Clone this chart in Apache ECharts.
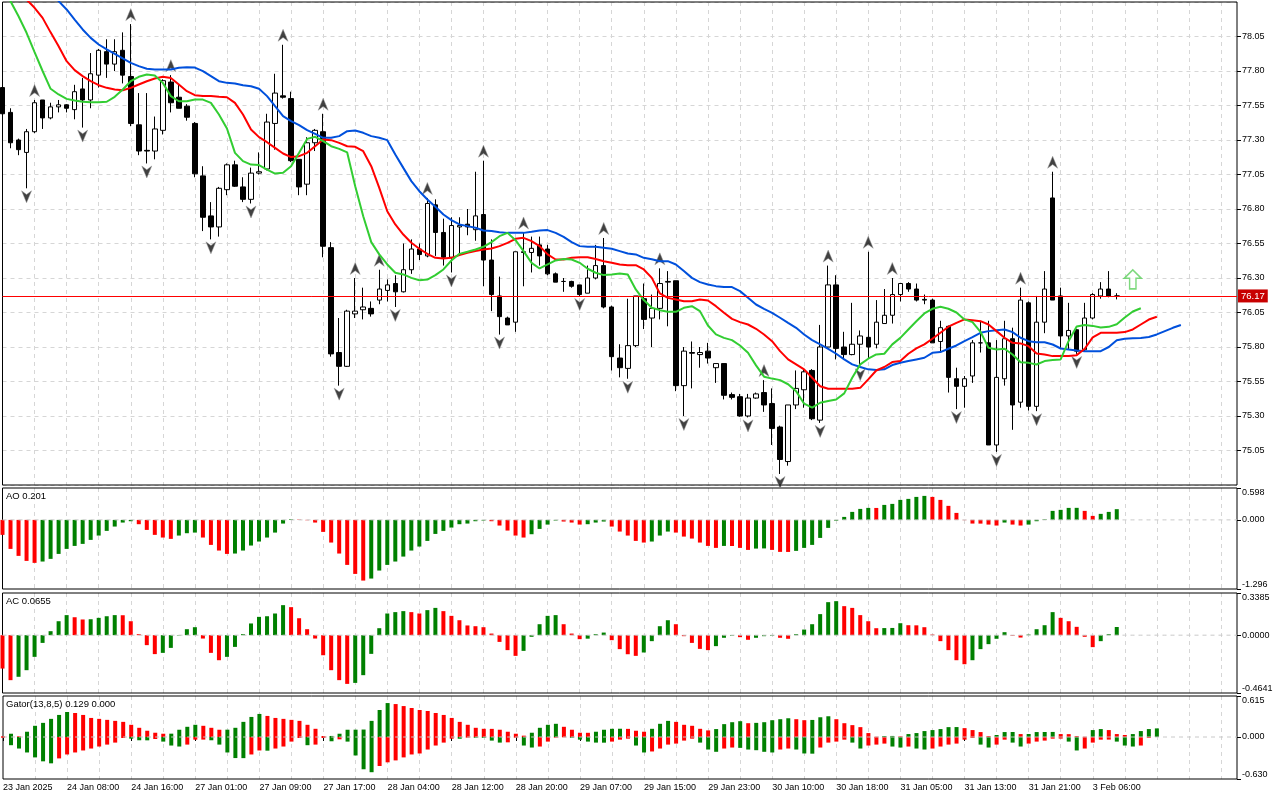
<!DOCTYPE html>
<html><head><meta charset="utf-8">
<script src="https://cdn.jsdelivr.net/npm/echarts@6.0.0/dist/echarts.min.js"></script>
<style>html,body{margin:0;padding:0;background:#fff}#c{width:1280px;height:800px}</style>
</head><body><div id="c"></div>
<script>
// ---------- tick labels (bottom time axis, one every 8 bars) ----------
const tickLabels = ['23 Jan 2025','24 Jan 08:00','24 Jan 16:00','27 Jan 01:00','27 Jan 09:00','27 Jan 17:00',
  '28 Jan 04:00','28 Jan 12:00','28 Jan 20:00','29 Jan 07:00','29 Jan 15:00','29 Jan 23:00','30 Jan 10:00',
  '30 Jan 18:00','31 Jan 05:00','31 Jan 13:00','31 Jan 21:00','3 Feb 06:00'];

// ---------- candles ----------
const open = [77.68,77.50,77.30,77.21,77.36,77.59,77.46,77.54,77.555,77.52,
 77.67,77.59,77.77,77.94,77.85,77.95,77.76,77.41,77.225,77.22,
 77.37,77.72,77.61,77.545,77.42,77.04,76.75,76.67,76.94,77.12,
 76.96,76.87,77.06,77.09,77.42,77.62,77.60,77.16,76.98,77.28,
 77.36,76.52,75.76,75.66,76.04,76.07,76.08,76.14,76.21,76.26,
 76.20,76.36,76.51,76.46,76.83,76.63,76.45,76.67,76.69,76.65,
 76.76,76.43,76.17,76.01,75.98,76.49,76.485,76.54,76.51,76.33,
 76.275,76.275,76.25,76.19,76.30,76.39,76.09,75.72,75.645,75.81,
 76.15,76.01,76.08,76.27,76.28,75.52,75.76,75.745,75.77,75.65,
 75.68,75.455,75.44,75.30,75.43,75.47,75.39,75.22,74.97,75.38,
 75.49,75.63,75.27,75.80,76.25,75.80,75.745,75.82,75.87,75.82,
 75.97,76.03,76.18,76.26,76.22,76.145,76.14,75.84,75.95,75.57,
 75.515,75.59,75.83,75.83,75.09,75.57,75.86,75.40,76.12,75.37,
 75.98,76.88,76.17,75.88,75.925,75.78,76.01,76.17,76.22,76.17];
const high = [77.72,77.53,77.31,77.38,77.59,77.585,77.57,77.59,77.56,77.70,
 77.75,77.93,77.96,78.03,78.03,78.08,78.14,77.64,77.64,77.47,
 77.74,77.77,77.70,77.56,77.43,77.11,76.85,76.96,77.13,77.15,
 77.03,77.10,77.21,77.49,77.78,77.99,77.65,77.16,77.32,77.38,
 77.49,76.56,76.01,76.07,76.30,76.23,76.13,76.36,76.29,76.32,
 76.55,76.58,76.55,76.88,76.87,76.73,76.74,76.74,76.80,77.07,
 77.15,76.58,76.31,76.02,76.49,76.63,76.60,76.60,76.54,76.34,
 76.30,76.28,76.25,76.39,76.54,76.59,76.10,75.82,76.15,76.17,
 76.26,76.18,76.37,76.35,76.28,75.80,75.84,75.80,75.83,75.68,
 75.68,75.47,75.46,75.46,75.47,75.56,75.50,75.23,75.38,75.63,
 75.64,75.64,75.96,76.39,76.32,75.91,76.12,75.92,76.49,76.14,
 76.22,76.30,76.26,76.27,76.26,76.18,76.15,75.99,75.955,75.65,
 75.59,75.85,75.99,75.99,75.85,75.99,75.94,76.23,76.13,76.17,
 76.35,77.07,76.23,76.12,75.93,76.12,76.19,76.27,76.35,76.19];
const low = [77.46,77.24,77.19,76.95,77.35,77.38,77.45,77.50,77.50,77.45,
 77.39,77.53,77.68,77.75,77.80,77.71,77.40,77.19,77.13,77.16,
 77.34,77.50,77.53,77.44,77.03,76.64,76.58,76.60,76.90,76.96,
 76.85,76.84,77.05,77.08,77.23,77.60,77.14,76.90,76.90,77.22,
 76.45,75.73,75.52,75.655,76.01,76.00,76.02,76.11,76.13,76.09,
 76.195,76.33,76.43,76.45,76.46,76.39,76.34,76.47,76.61,76.57,
 76.24,76.06,75.89,75.96,75.91,76.24,76.34,76.39,76.32,76.27,
 76.20,76.23,76.17,76.19,76.29,76.08,75.63,75.58,75.57,75.80,
 75.93,75.80,76.00,75.95,75.48,75.30,75.50,75.65,75.68,75.54,
 75.42,75.42,75.295,75.29,75.425,75.33,75.09,74.88,74.94,75.35,
 75.36,75.27,75.25,75.795,75.71,75.72,75.74,75.66,75.72,75.79,
 75.97,75.97,76.13,76.20,76.13,76.11,75.83,75.76,75.47,75.35,
 75.36,75.54,75.76,75.09,75.04,75.52,75.20,75.36,75.34,75.335,
 75.90,76.14,75.79,75.78,75.75,75.77,76.00,76.15,76.16,76.145];
const close = [77.49,77.28,77.23,77.36,77.57,77.46,77.54,77.555,77.53,77.65,
 77.59,77.78,77.95,77.85,77.94,77.77,77.42,77.22,77.22,77.38,
 77.73,77.57,77.53,77.465,77.055,76.74,76.67,76.95,77.12,76.965,
 76.87,77.06,77.07,77.43,77.64,77.61,77.15,76.96,77.28,77.37,
 76.53,75.75,75.66,76.06,76.06,76.09,76.04,76.22,76.25,76.20,
 76.36,76.51,76.47,76.84,76.63,76.45,76.68,76.68,76.67,76.75,
 76.43,76.18,76.02,75.96,76.49,76.485,76.515,76.46,76.33,76.27,
 76.275,76.24,76.18,76.30,76.39,76.09,75.73,75.65,75.81,76.17,
 76.00,76.08,76.26,76.275,75.52,75.77,75.755,75.76,75.72,75.68,
 75.45,75.435,75.30,75.43,75.46,75.38,75.21,74.985,75.38,75.50,
 75.62,75.28,75.80,76.25,75.79,75.745,75.82,75.88,75.80,75.98,
 76.03,76.18,76.26,76.22,76.14,76.14,75.83,75.94,75.58,75.515,
 75.57,75.83,75.83,75.09,75.58,75.86,75.38,76.14,75.37,75.98,
 76.22,76.14,75.88,75.92,75.77,76.01,76.18,76.22,76.17,76.17];

// ---------- Alligator (already shifted forward: jaw 8, teeth 5, lips 3) ----------
const jaw = [78.70,78.65,78.60,78.55,78.49,78.43,78.37,
 78.306,78.246,78.173,78.101,78.040,77.992,77.956,77.924,77.891,77.859,77.835,77.816,77.811,77.811,77.811,
 77.823,77.828,77.825,77.799,77.763,77.726,77.714,77.709,77.697,77.690,77.671,77.618,77.545,77.473,77.437,
 77.408,77.371,77.345,
 77.316,77.316,77.328,77.364,77.369,77.352,77.328,77.316,77.299,77.195,77.098,77.002,76.929,76.869,76.816,
 76.760,76.719,76.688,76.676,76.664,76.644,76.640,76.632,76.627,76.627,76.627,76.635,76.644,76.647,76.627,
 76.598,76.560,76.531,76.526,76.526,76.519,76.512,76.495,76.478,76.471,76.446,76.436,
 76.422,76.422,76.398,76.350,76.301,76.270,76.253,76.241,76.234,76.234,76.205,76.157,76.108,76.077,76.048,
 76.012,75.975,75.939,75.891,75.850,75.819,75.787,75.751,75.710,75.674,75.655,75.638,75.633,75.638,75.669,
 75.686,75.698,75.710,75.722,75.758,75.763,75.787,75.811,75.842,
 75.871,75.903,75.915,75.922,75.927,75.908,75.867,75.842,75.835,75.835,75.818,75.789,75.782,75.775,75.770,
 75.770,75.770,75.800,75.849,75.859,75.864,75.866,75.873,75.891,75.915,75.939,75.959];
const teeth = [78.463,78.415,78.367,78.318,78.258,78.185,78.08,77.98,77.871,77.806,
 77.763,77.726,77.697,77.678,77.666,77.661,77.678,77.702,77.726,77.746,
 77.758,77.750,77.702,77.654,77.625,77.618,77.618,77.613,77.610,77.569,
 77.485,77.376,77.321,77.284,77.243,77.202,77.176,77.183,77.207,77.255,
 77.304,77.299,77.279,77.255,77.251,77.219,77.110,76.953,76.784,76.688,
 76.615,76.555,76.512,76.475,76.446,76.441,76.446,76.466,76.483,76.495,
 76.507,76.514,76.531,76.555,76.584,76.591,76.567,76.531,76.471,76.434,
 76.434,76.446,76.451,76.451,76.438,76.422,76.410,76.398,76.393,76.393,
 76.362,76.301,76.188,76.156,76.144,76.132,76.132,76.144,76.137,76.096,
 76.048,76.004,75.980,75.963,75.932,75.891,75.842,75.770,75.710,75.674,
 75.638,75.577,75.516,75.497,75.497,75.497,75.497,75.504,75.565,75.630,
 75.655,75.691,75.698,75.751,75.790,75.819,75.860,75.903,75.947,75.975,
 76.000,75.994,75.987,75.963,75.915,75.867,75.830,75.826,75.806,75.753,
 75.746,75.734,75.734,75.734,75.741,75.787,75.870,75.903,75.903,75.903,
 75.908,75.927,75.963,75.999,76.019];
const lips = [78.415,78.306,78.197,78.077,77.936,77.800,77.671,77.630,77.598,77.586,
 77.577,77.574,77.574,77.577,77.613,77.666,77.726,77.758,77.775,77.767,
 77.714,77.618,77.581,77.581,77.593,77.593,77.569,77.485,77.383,77.207,
 77.147,77.122,77.118,77.086,77.057,77.062,77.110,77.207,77.308,77.323,
 77.292,77.255,77.236,77.210,76.965,76.748,76.560,76.471,76.398,76.338,
 76.326,76.301,76.284,76.289,76.321,76.362,76.427,76.475,76.490,76.507,
 76.526,76.560,76.603,76.627,76.574,76.495,76.410,76.369,76.398,76.427,
 76.438,76.434,76.410,76.367,76.338,76.321,76.326,76.333,76.326,76.217,
 76.140,76.084,76.067,76.055,76.055,76.084,76.096,76.060,75.956,75.891,
 75.866,75.850,75.811,75.758,75.667,75.585,75.571,75.560,75.530,75.480,
 75.389,75.360,75.396,75.408,75.420,75.464,75.577,75.674,75.715,75.746,
 75.751,75.819,75.866,75.927,75.987,76.043,76.077,76.091,76.077,76.050,
 76.000,75.980,75.910,75.794,75.782,75.787,75.746,75.690,75.685,75.673,
 75.698,75.705,75.710,75.844,75.948,75.960,75.953,75.941,75.946,75.965,
 76.014,76.057,76.081];

// ---------- Fractals (bar indices) and signal arrow ----------
const fractalUp = [4,16,21,35,40,44,47,53,60,65,75,82,95,103,108,111,127,131];
const fractalDown = [3,10,18,26,31,42,49,56,62,72,78,85,93,97,102,107,119,124,129,134];
const signalArrow = [[141, 76.29]];

// ---------- Awesome Oscillator ----------
const ao = [-0.281,-0.544,-0.675,-0.769,-0.806,-0.781,-0.731,-0.638,-0.544,-0.488,
 -0.450,-0.375,-0.294,-0.206,-0.125,-0.050,-0.025,-0.081,-0.188,-0.281,
 -0.331,-0.356,-0.294,-0.250,-0.238,-0.331,-0.469,-0.575,-0.638,-0.631,
 -0.575,-0.481,-0.406,-0.331,-0.238,-0.069,0.012,0.006,-0.006,-0.050,
 -0.225,-0.425,-0.631,-0.844,-1.013,-1.138,-1.100,-0.950,-0.844,-0.781,
 -0.688,-0.575,-0.500,-0.394,-0.263,-0.206,-0.144,-0.081,-0.069,-0.025,
 -0.012,-0.025,-0.106,-0.200,-0.294,-0.331,-0.269,-0.169,-0.088,-0.012,
 -0.031,-0.050,-0.088,-0.081,-0.050,-0.031,-0.125,-0.219,-0.294,-0.394,
 -0.425,-0.406,-0.294,-0.219,-0.238,-0.313,-0.350,-0.425,-0.488,-0.525,
 -0.488,-0.490,-0.525,-0.563,-0.538,-0.535,-0.563,-0.600,-0.601,-0.581,
 -0.525,-0.469,-0.338,-0.150,-0.015,0.056,0.150,0.206,0.225,0.224,
 0.281,0.300,0.375,0.394,0.431,0.450,0.431,0.375,0.263,0.131,
 -0.005,-0.069,-0.070,-0.088,-0.106,-0.050,-0.088,-0.106,-0.088,-0.025,
 0.012,0.169,0.188,0.225,0.226,0.169,0.075,0.113,0.150,0.201];

// ---------- Accelerator Oscillator ----------
const ac = [-0.268,-0.361,-0.334,-0.281,-0.174,-0.062,0.032,0.112,0.161,0.144,
 0.126,0.128,0.139,0.152,0.161,0.160,0.112,0.008,-0.080,-0.152,
 -0.142,-0.102,-0.003,0.048,0.064,-0.027,-0.142,-0.201,-0.174,-0.094,
 0.008,0.094,0.147,0.152,0.174,0.241,0.225,0.136,0.048,-0.027,
 -0.161,-0.281,-0.361,-0.391,-0.383,-0.321,-0.150,0.056,0.174,0.185,
 0.193,0.185,0.174,0.201,0.219,0.193,0.155,0.120,0.078,0.072,
 0.064,0.013,-0.054,-0.120,-0.166,-0.126,-0.013,0.088,0.155,0.161,
 0.088,0.013,-0.032,-0.028,0.008,0.021,-0.040,-0.112,-0.153,-0.166,
 -0.139,-0.048,0.072,0.120,0.088,-0.008,-0.062,-0.110,-0.120,-0.088,
 -0.021,-0.005,-0.016,-0.037,-0.021,-0.008,-0.005,-0.021,-0.029,0.008,
 0.045,0.088,0.169,0.265,0.273,0.233,0.219,0.161,0.112,0.056,
 0.057,0.058,0.096,0.080,0.079,0.064,0.005,-0.048,-0.120,-0.201,
 -0.233,-0.201,-0.112,-0.072,-0.029,0.024,-0.005,-0.019,0.005,0.048,
 0.080,0.185,0.139,0.112,0.067,-0.013,-0.096,-0.048,0.008,0.0655];

// ---------- Gator oscillator (upper = |jaw-teeth|, lower = -|teeth-lips|) ----------
const gatorUp = [0.010,0.049,0.010,0.079,0.168,0.212,0.272,0.331,0.375,0.360,
 0.331,0.286,0.272,0.257,0.242,0.227,0.183,0.138,0.094,0.064,
 0.049,0.050,0.109,0.153,0.183,0.168,0.138,0.109,0.110,0.138,
 0.227,0.301,0.346,0.316,0.286,0.272,0.257,0.242,0.183,0.123,
 0.015,0.016,0.049,0.109,0.110,0.112,0.242,0.405,0.509,0.494,
 0.464,0.435,0.405,0.390,0.360,0.331,0.286,0.227,0.183,0.138,
 0.123,0.122,0.109,0.079,0.049,0.020,0.064,0.138,0.183,0.198,
 0.153,0.109,0.064,0.063,0.079,0.109,0.123,0.124,0.122,0.094,
 0.079,0.123,0.198,0.242,0.227,0.183,0.168,0.123,0.099,0.119,
 0.193,0.222,0.237,0.207,0.212,0.222,0.252,0.267,0.281,0.267,
 0.252,0.256,0.296,0.311,0.267,0.207,0.178,0.148,0.059,0.005,
 0.015,0.016,0.010,0.044,0.059,0.089,0.104,0.119,0.148,0.149,
 0.133,0.104,0.074,0.015,0.030,0.074,0.075,0.044,0.045,0.074,
 0.075,0.076,0.044,0.043,0.015,0.005,0.104,0.119,0.104,0.044,
 0.030,0.044,0.089,0.119,0.129];
const gatorDown = [-0.010,-0.123,-0.173,-0.232,-0.306,-0.365,-0.395,-0.321,-0.262,-0.232,
 -0.202,-0.173,-0.143,-0.114,-0.084,-0.015,-0.025,-0.049,-0.050,-0.030,
 -0.069,-0.128,-0.143,-0.114,-0.040,-0.039,-0.049,-0.114,-0.232,-0.316,
 -0.317,-0.262,-0.202,-0.205,-0.173,-0.143,-0.069,-0.015,-0.123,-0.114,
 -0.015,-0.064,-0.035,-0.069,-0.277,-0.484,-0.528,-0.435,-0.380,-0.351,
 -0.306,-0.262,-0.247,-0.188,-0.128,-0.084,-0.025,-0.026,-0.010,-0.011,
 -0.012,-0.054,-0.084,-0.080,-0.010,-0.128,-0.158,-0.143,-0.069,-0.010,
 -0.005,-0.011,-0.040,-0.069,-0.084,-0.085,-0.069,-0.040,-0.025,-0.128,
 -0.232,-0.217,-0.173,-0.114,-0.099,-0.054,-0.025,-0.084,-0.188,-0.222,
 -0.173,-0.158,-0.163,-0.188,-0.198,-0.222,-0.232,-0.188,-0.173,-0.188,
 -0.247,-0.250,-0.158,-0.084,-0.069,-0.040,-0.084,-0.173,-0.128,-0.114,
 -0.099,-0.143,-0.158,-0.143,-0.173,-0.188,-0.173,-0.143,-0.114,-0.099,
 -0.040,-0.015,-0.114,-0.158,-0.114,-0.040,-0.084,-0.143,-0.099,-0.069,
 -0.054,-0.025,-0.024,-0.069,-0.202,-0.173,-0.084,-0.040,-0.039,-0.069,
 -0.128,-0.143,-0.128,-0.015,-0.0004];

// ---------- axis ranges ----------
const priceAxis = {min: 74.80, max: 78.30, step: 0.25};
const aoAxis = {min: -1.296, max: 0.598};
const acAxis = {min: -0.4641, max: 0.3385};
const gatorAxis = {min: -0.630, max: 0.615};

// ================= chart =================
const N_SLOTS = 155; // bar slots across the plot incl. empty space on the right
const slots = Array.from({length: N_SLOTS}, (_, i) => String(i));
const FONT = 'Liberation Sans';
const GREEN = '#008000', RED = '#ff0000';
const GRIDLINE = {color: '#d6d6d6', type: [4, 4], width: 1};

const chart = echarts.init(document.getElementById('c'), null, {renderer: 'canvas'});

const gridBase = {left: 2.5, right: 43, show: true, z: 1, borderColor: '#000', borderWidth: 1, backgroundColor: 'transparent'};
const grid = [
  Object.assign({top: 2, height: 483}, gridBase),
  Object.assign({top: 488, height: 101}, gridBase),
  Object.assign({top: 593, height: 100}, gridBase),
  Object.assign({top: 696, height: 83}, gridBase)
];

const xAxis = [0, 1, 2, 3].map(k => ({
  type: 'category', gridIndex: k, data: slots, boundaryGap: false,
  axisLine: {show: false},
  axisTick: k === 3 ? {show: true, interval: i => i % 8 === 0 && i / 8 < tickLabels.length, length: 4, lineStyle: {color: '#000'}} : {show: false},
  axisLabel: k === 3 ? {
    show: true, interval: i => i % 8 === 0 && i / 8 < tickLabels.length, align: 'left', margin: 4,
    fontFamily: FONT, fontSize: 9, color: '#000',
    formatter: (v, i) => tickLabels[i / 8]
  } : {show: false},
  splitLine: {show: true, interval: i => i > 0 && i % 4 === 0, lineStyle: GRIDLINE}
}));

function subY(k, ax, dec) {
  const vals = [ax.min, 0, ax.max];
  return {
    type: 'value', gridIndex: k, position: 'right', min: ax.min, max: ax.max,
    axisLine: {show: false},
    axisTick: {show: true, length: 4, customValues: vals, lineStyle: {color: '#000'}},
    axisLabel: {customValues: vals, margin: 5, fontFamily: FONT, fontSize: 9, color: '#000',
      formatter: v => Number(v).toFixed(dec), verticalAlignMinLabel: 'bottom', verticalAlignMaxLabel: 'top'},
    splitLine: {show: false}
  };
}

const yAxis = [
  {type: 'value', gridIndex: 0, position: 'right', min: priceAxis.min, max: priceAxis.max, interval: priceAxis.step,
   axisLine: {show: false},
   axisTick: {show: true, length: 4, lineStyle: {color: '#000'}},
   axisLabel: {showMinLabel: false, showMaxLabel: false, margin: 5, fontFamily: FONT, fontSize: 9, color: '#000',
     formatter: v => Number(v).toFixed(2)},
   splitLine: {show: true, lineStyle: GRIDLINE}},
  subY(1, aoAxis, 3),
  subY(2, acAxis, 4),
  subY(3, gatorAxis, 3)
];

function colored(arr, absMode) {
  return arr.map((v, i) => {
    let up = false;
    if (i > 0) up = absMode ? Math.abs(v) > Math.abs(arr[i - 1]) : v > arr[i - 1];
    return {value: v, itemStyle: {color: up ? GREEN : RED}};
  });
}
// dashed zero line of each oscillator panel, drawn as a line over all bar slots
const zeroRow = slots.map(() => 0);
function zeroSeries(k) {
  return {type: 'line', xAxisIndex: k, yAxisIndex: k, data: zeroRow, symbol: 'none', silent: true, z: 3,
    lineStyle: {color: '#c8c8c8', type: [4, 4], width: 1}};
}

const lastClose = close[close.length - 1];
const UP_ARROW = 'path://M5,0 L10,13 L5,9 L0,13 Z';
const DOWN_ARROW = 'path://M0,0 L5,4 L10,0 L5,13 Z';
const SIGNAL_ARROW = 'path://M8,0 L16,8 L11,8 L11,18 L5,18 L5,8 L0,8 Z';

const series = [
  {type: 'candlestick', xAxisIndex: 0, yAxisIndex: 0, barWidth: 5,
   data: open.map((o, i) => [o, close[i], low[i], high[i]]),
   itemStyle: {color: '#fff', color0: '#000', borderColor: '#000', borderColor0: '#000', borderWidth: 1},
   markLine: {silent: true, symbol: ['none', 'none'], animation: false,
     lineStyle: {color: '#ff0000', width: 1, type: 'solid'},
     label: {show: true, position: 'end', distance: 1, formatter: lastClose.toFixed(2),
       backgroundColor: '#c80000', color: '#fff', padding: [2, 3, 1, 3], fontFamily: FONT, fontSize: 9.5},
     data: [{yAxis: lastClose}]}},
  {type: 'line', xAxisIndex: 0, yAxisIndex: 0, data: jaw, symbol: 'none', lineStyle: {color: '#0050dc', width: 2}},
  {type: 'line', xAxisIndex: 0, yAxisIndex: 0, data: teeth, symbol: 'none', lineStyle: {color: '#ff0000', width: 2}},
  {type: 'line', xAxisIndex: 0, yAxisIndex: 0, data: lips, symbol: 'none', lineStyle: {color: '#32cd32', width: 2}},
  {type: 'scatter', xAxisIndex: 0, yAxisIndex: 0, symbol: UP_ARROW, symbolSize: [10, 12], symbolOffset: [0, -9.5],
   data: fractalUp.map(i => [i, high[i]]), itemStyle: {color: '#111', borderColor: '#999', borderWidth: 0.6}},
  {type: 'scatter', xAxisIndex: 0, yAxisIndex: 0, symbol: DOWN_ARROW, symbolSize: [10, 12], symbolOffset: [0, 8.5],
   data: fractalDown.map(i => [i, low[i]]), itemStyle: {color: '#111', borderColor: '#999', borderWidth: 0.6}},
  {type: 'scatter', xAxisIndex: 0, yAxisIndex: 0, symbol: SIGNAL_ARROW, symbolSize: [17, 19],
   data: signalArrow, itemStyle: {color: '#fff', borderColor: '#5ccf5c', borderWidth: 1.5}},
  {type: 'bar', xAxisIndex: 1, yAxisIndex: 1, barWidth: 4, data: colored(ao, false)},
  {type: 'bar', xAxisIndex: 2, yAxisIndex: 2, barWidth: 4, data: colored(ac, false)},
  {type: 'bar', xAxisIndex: 3, yAxisIndex: 3, barWidth: 4, barGap: '-100%', data: colored(gatorUp, false)},
  {type: 'bar', xAxisIndex: 3, yAxisIndex: 3, barWidth: 4, barGap: '-100%', data: colored(gatorDown, true)},
  zeroSeries(1), zeroSeries(2), zeroSeries(3)
];

const headerFont = '9.5px "Liberation Sans"';
const graphic = [
  {type: 'text', left: 6, top: 491, z: 100, style: {text: 'AO ' + ao[ao.length - 1].toFixed(3), font: headerFont, fill: '#000'}},
  {type: 'text', left: 6, top: 596, z: 100, style: {text: 'AC ' + ac[ac.length - 1].toFixed(4), font: headerFont, fill: '#000'}},
  {type: 'text', left: 6, top: 699.5, z: 100, style: {
    text: 'Gator(13,8,5) ' + gatorUp[gatorUp.length - 1].toFixed(3) + ' ' + Math.abs(gatorDown[gatorDown.length - 1]).toFixed(3),
    font: headerFont, fill: '#000'}}
];

chart.setOption({
  animation: false,
  backgroundColor: '#fff',
  textStyle: {fontFamily: FONT},
  grid, xAxis, yAxis, series, graphic
});
</script>
</body></html>
